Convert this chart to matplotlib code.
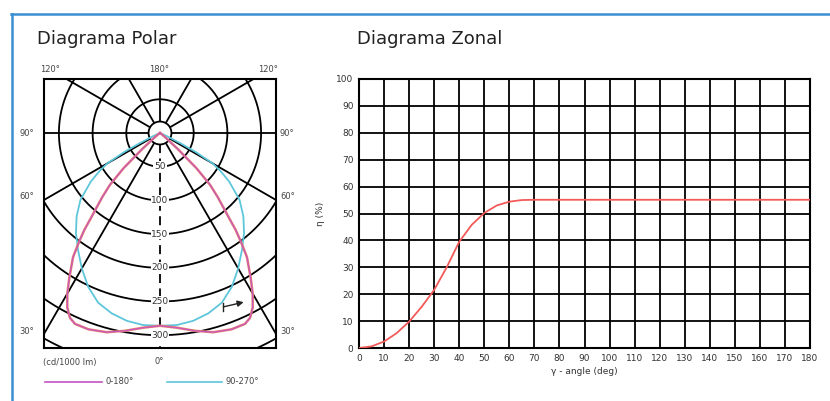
import numpy as np
import matplotlib
matplotlib.use("Agg")
from matplotlib import pyplot as plt
from matplotlib.lines import Line2D
from matplotlib.patches import Circle

# polar diagram data (cd/1000 lm), gamma measured from nadir
gamma_red = [0, 5, 10, 15, 20, 24, 26, 28, 30, 32, 35, 36, 37, 38, 39, 40, 42, 44, 46, 48, 50, 55, 60, 90]
i_red = [286, 290, 298, 306, 310, 310, 305, 293, 275, 254, 225, 210, 196, 182, 164, 150, 128, 107, 75, 35, 12, 3, 1, 0]
gamma_cyan = [0, 5, 10, 15, 20, 25, 30, 35, 40, 45, 50, 55, 58, 60, 62, 63, 64, 66, 70, 90]
i_cyan = [286, 286, 283, 277, 268, 252, 232, 212, 194, 175, 154, 125, 105, 90, 60, 38, 22, 8, 2, 0]
radial_labels = [50, 100, 150, 200, 250, 300]

# zonal diagram data
zonal_angle = [0, 5, 10, 15, 20, 25, 30, 35, 40, 45, 50, 55, 60, 65, 70, 180]
zonal_eta = [0, 0.6, 2.4, 5.5, 9.8, 15.3, 21.6, 30, 39.5, 45.8, 50.2, 53, 54.4, 55, 55.1, 55.1]

W, H = 830, 401
fig = plt.figure(figsize=(W / 100, H / 100), dpi=100)

def fx(px):
    return px / W

def fy(py):
    return 1 - py / H

# blue frame
fig.add_artist(Line2D([fx(11), 1.0], [fy(13.5), fy(13.5)], color='#3a8fd2', lw=1.8))
fig.add_artist(Line2D([fx(11.5), fx(11.5)], [fy(13.5), 0], color='#3a8fd2', lw=1.8))

fig.text(fx(37), fy(39), 'Diagrama Polar', fontsize=13, color='#222', va='center')
fig.text(fx(357), fy(39), 'Diagrama Zonal', fontsize=13, color='#222', va='center')

# ---------- polar ----------
ax = fig.add_axes([fx(44), fy(348), (276 - 44) / W, (348 - 79) / H])
s = 50 / 33.7
ax.set_xlim(-116 * s, 116 * s)
ax.set_ylim(-215 * s, 54 * s)
ax.set_xticks([])
ax.set_yticks([])
for sp in ax.spines.values():
    sp.set_linewidth(1.5)

th = np.linspace(0, 2 * np.pi, 500)
for r in [50, 100, 150, 200, 250, 300, 350]:
    ax.plot(r * np.cos(th), r * np.sin(th), color='k', lw=1.3, zorder=1)

r0 = 17
for a in [30, 60, 90, 120, 150, 180, -30, -60, -90, -120, -150]:
    t = np.radians(a)
    ax.plot([r0 * np.sin(t), 700 * np.sin(t)], [-r0 * np.cos(t), -700 * np.cos(t)],
            color='k', lw=1.3, zorder=1)
ax.plot([0, 0], [-r0, -700], color='k', lw=1.3, ls=(0, (5, 3)), zorder=1)
ax.add_patch(Circle((0, 0), r0, fc='white', ec='k', lw=1.3, zorder=2))

for r in radial_labels:
    ax.text(0, -r, str(r), fontsize=6.5, color='#333', ha='center', va='center', zorder=3,
            bbox=dict(fc='white', ec='none', pad=0.6))

def curve(g, v):
    g = np.radians(np.array(g, dtype=float))
    v = np.array(v, dtype=float)
    x = v * np.sin(g)
    y = -v * np.cos(g)
    return np.concatenate([-x[::-1], x[1:]]), np.concatenate([y[::-1], y[1:]])

xc, yc = curve(gamma_cyan, i_cyan)
ax.plot(xc, yc, color='#5ec6da', lw=1.3, zorder=4)
xr, yr = curve(gamma_red, i_red)
ax.plot(xr, yr, color='#e47a74', lw=1.8, zorder=4)
ax.plot(xr, yr, color='#c454c4', lw=0.7, zorder=5)

# small "I ->" arrow
ax.annotate('', xy=(124, -251), xytext=(94, -258),
            arrowprops=dict(arrowstyle='-|>,head_length=0.35,head_width=0.18',
                            color='#222', lw=1.0, shrinkA=0, shrinkB=0), zorder=6)
ax.plot([94, 94], [-264, -252], color='#222', lw=1.0, zorder=6)

lab = dict(fontsize=6, color='#444', va='center')
fig.text(fx(50), fy(70), '120°', ha='center', **lab)
fig.text(fx(159), fy(70), '180°', ha='center', **lab)
fig.text(fx(268), fy(70), '120°', ha='center', **lab)
for py, t in [(133, '90°'), (197, '60°'), (331, '30°')]:
    fig.text(fx(34), fy(py), t, ha='right', **lab)
    fig.text(fx(280), fy(py), t, ha='left', **lab)
fig.text(fx(159), fy(362), '0°', ha='center', **lab)
fig.text(fx(43), fy(362), '(cd/1000 lm)', ha='left', **lab)

fig.add_artist(Line2D([fx(45), fx(102)], [fy(382), fy(382)], color='#c454c4', lw=1.2))
fig.text(fx(105), fy(382), '0-180°', ha='left', **lab)
fig.add_artist(Line2D([fx(167), fx(222)], [fy(382), fy(382)], color='#5ec6da', lw=1.2))
fig.text(fx(225), fy(382), '90-270°', ha='left', **lab)

# ---------- zonal ----------
az = fig.add_axes([fx(359), fy(348), (810 - 359) / W, (348 - 79) / H])
az.set_xlim(0, 180)
az.set_ylim(0, 100)
az.set_xticks(np.arange(0, 181, 10))
az.set_yticks(np.arange(0, 101, 10))
az.tick_params(length=0, labelsize=6.5, labelcolor='#333', pad=4)
az.grid(True, color='k', lw=1.3)
az.set_axisbelow(True)
for sp in az.spines.values():
    sp.set_linewidth(1.5)
az.plot(zonal_angle, zonal_eta, color='#f25a5a', lw=1.3, zorder=3)
az.set_xlabel('γ - angle (deg)', fontsize=6.5, color='#333', labelpad=3)
az.set_ylabel('η (%)', fontsize=6.5, color='#333', labelpad=8)

fig.savefig('out.png', dpi=100)
